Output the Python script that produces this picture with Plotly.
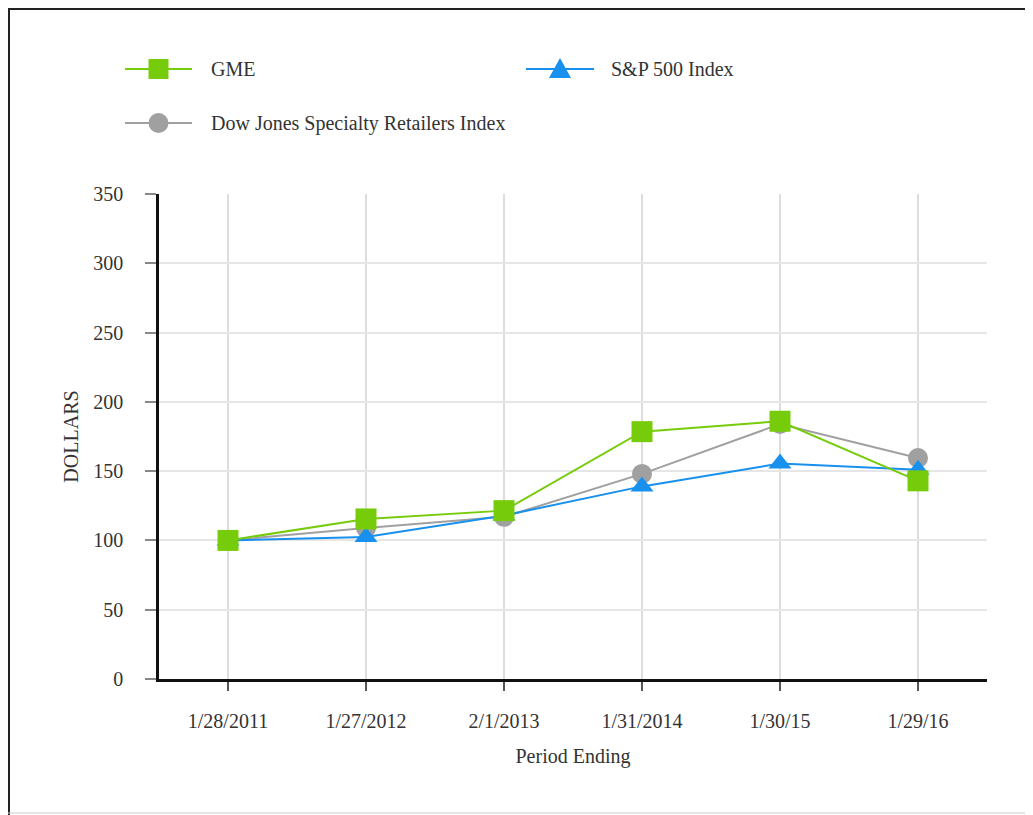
import plotly.graph_objects as go

periods = ["1/28/2011", "1/27/2012", "2/1/2013", "1/31/2014", "1/30/15", "1/29/16"]
gme = [100, 115.5, 121.5, 178.5, 186, 143]
sp500 = [100, 102.5, 118, 139, 155.5, 151]
dowjones = [100, 109, 117, 148, 184, 159.5]
y_ticks = [0, 50, 100, 150, 200, 250, 300, 350]

names = ["GME", "S&P 500 Index", "Dow Jones Specialty Retailers Index"]
GREEN = "#76cc0a"
BLUE = "#1890ee"
GRAY = "#a0a0a0"
TEXT = "#333333"

OFF = 8  # page offset of the plot div
W, H = 1033, 815
L, R, T, B = 159, 987, 194, 679   # plot area in page pixels
FONT = "Liberation Serif"


def px(x):
    return (x - L) / (R - L)


def py(y):
    return (B - y) / (B - T)


fig = go.Figure()
fig.add_trace(go.Scatter(x=periods, y=dowjones, name=names[2], mode="lines+markers",
                         line=dict(color=GRAY, width=2),
                         marker=dict(symbol="circle", size=20, color=GRAY),
                         cliponaxis=False, showlegend=False))
fig.add_trace(go.Scatter(x=periods, y=sp500, name=names[1], mode="lines+markers",
                         line=dict(color=BLUE, width=2),
                         marker=dict(symbol="triangle-up", size=20, color=BLUE),
                         cliponaxis=False, showlegend=False))
fig.add_trace(go.Scatter(x=periods, y=gme, name=names[0], mode="lines+markers",
                         line=dict(color=GREEN, width=2),
                         marker=dict(symbol="square", size=21, color=GREEN),
                         cliponaxis=False, showlegend=False))

shapes = []
annotations = []

# frame of the whole picture (top and left edges, faint bottom)
shapes.append(dict(type="line", xref="paper", yref="paper", x0=px(OFF), x1=px(W + 20),
                   y0=py(OFF + 1), y1=py(OFF + 1), line=dict(color="#222", width=2)))
shapes.append(dict(type="line", xref="paper", yref="paper", x0=px(OFF + 1), x1=px(OFF + 1),
                   y0=py(OFF), y1=py(H + 20), line=dict(color="#222", width=2)))
shapes.append(dict(type="line", xref="paper", yref="paper", x0=px(OFF), x1=px(W + 20),
                   y0=py(813), y1=py(813), line=dict(color="#cccccc", width=1)))

# manual legend
legend_items = [
    (names[0], GREEN, "square", 125, 192, 69, 209),
    (names[1], BLUE, "triangle", 526, 594, 69, 609),
    (names[2], GRAY, "circle", 125, 192, 123, 209),
]
for name, color, sym, x0, x1, yc, tx in legend_items:
    shapes.append(dict(type="line", xref="paper", yref="paper", x0=px(x0), x1=px(x1),
                       y0=py(yc), y1=py(yc), line=dict(color=color, width=2)))
    cx = (x0 + x1) / 2
    s = 10
    if sym == "square":
        shapes.append(dict(type="rect", xref="paper", yref="paper",
                           x0=px(cx - s), x1=px(cx + s), y0=py(yc - s), y1=py(yc + s),
                           fillcolor=color, line=dict(width=0)))
    elif sym == "circle":
        shapes.append(dict(type="circle", xref="paper", yref="paper",
                           x0=px(cx - s), x1=px(cx + s), y0=py(yc - s), y1=py(yc + s),
                           fillcolor=color, line=dict(width=0)))
    else:
        path = "M {a},{b} L {c},{d} L {e},{f} Z".format(
            a=px(cx - 11), b=py(yc + 9), c=px(cx + 11), d=py(yc + 9),
            e=px(cx), f=py(yc - 11))
        shapes.append(dict(type="path", xref="paper", yref="paper", path=path,
                           fillcolor=color, line=dict(width=0)))
    annotations.append(dict(text=name, xref="paper", yref="paper", x=px(tx), y=py(yc),
                            xanchor="left", yanchor="middle", showarrow=False,
                            font=dict(family=FONT, size=20, color=TEXT)))

fig.update_layout(
    width=W - OFF, height=H - OFF,
    margin=dict(l=L - OFF, r=W - R, t=T - OFF, b=H - B, pad=0),
    paper_bgcolor="white", plot_bgcolor="white",
    font=dict(family=FONT, size=20, color=TEXT),
    shapes=shapes, annotations=annotations,
    showlegend=False,
    xaxis=dict(
        type="category", range=[-0.5, 5.5],
        showgrid=True, gridcolor="#dddddd", gridwidth=2,
        showline=True, linecolor="#111", linewidth=2.5,
        ticks="outside", ticklen=9, tickcolor="#555", tickwidth=2,
        ticklabelstandoff=13,
        tickfont=dict(family=FONT, size=20, color=TEXT),
        title=dict(text="Period Ending", standoff=19,
                   font=dict(family=FONT, size=20, color=TEXT)),
        zeroline=False,
    ),
    yaxis=dict(
        range=[0, 350], tickvals=y_ticks,
        showgrid=True, gridcolor="#e6e6e6", gridwidth=1.5,
        showline=True, linecolor="#111", linewidth=2.5,
        ticks="outside", ticklen=11, tickcolor="#888", tickwidth=2,
        ticklabelstandoff=18,
        tickfont=dict(family=FONT, size=20, color=TEXT),
        title=dict(text="DOLLARS", standoff=10,
                   font=dict(family=FONT, size=20, color=TEXT)),
        zeroline=False,
    ),
)

fig.write_html("out.html")
